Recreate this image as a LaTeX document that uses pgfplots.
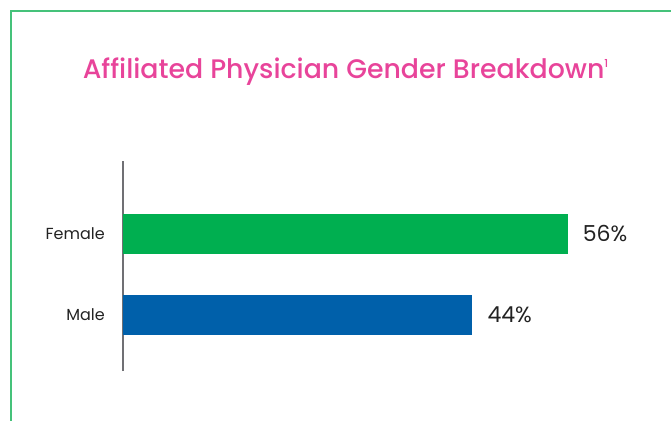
\documentclass[border=0pt]{standalone}
\usepackage{pgfplots}
\pgfplotsset{compat=1.18}
\usepackage{fontspec}
\setmainfont{Poppins}
\newfontfamily\titlefont{Poppins Medium}
\definecolor{framegreen}{HTML}{45C27A}
\definecolor{femalegreen}{HTML}{00AF50}
\definecolor{maleblue}{HTML}{0060AA}
\definecolor{titlepink}{HTML}{E8449A}
\definecolor{axisgray}{HTML}{707074}
\definecolor{textdark}{HTML}{222222}

\begin{document}
\begin{tikzpicture}[x=1pt,y=1pt]
\path[use as bounding box] (0,0) rectangle (671,-420);
% frame
\draw[framegreen, line width=2pt] (11,-421) -- (11,-11) -- (672,-11);
% title
\node[anchor=base, inner sep=0pt, text=titlepink, font=\titlefont\fontsize{26.8}{30}\selectfont]
  at (345.5,-78) {Affiliated Physician Gender Breakdown\raisebox{10.5pt}{\fontsize{11}{12}\selectfont 1}};

\begin{axis}[
  at={(122.5pt,-371pt)}, anchor=south west,
  scale only axis, width=477pt, height=210pt,
  xbar, bar width=40pt,
  xmin=0, xmax=60, ymin=-0.691, ymax=1.901,
  axis x line=none, axis y line=left,
  axis line style={-, draw=axisgray, line width=2pt},
  ytick={0,1}, yticklabels={Male,Female},
  major tick length=0pt,
  yticklabel style={anchor=east, inner sep=0pt, xshift=-17.5pt,
    font=\fontsize{16}{18}\selectfont, text=textdark},
  point meta=x,
  nodes near coords={\pgfmathprintnumber[assume math mode=true]{\pgfplotspointmeta}\%},
  every node near coord/.append style={anchor=west, inner sep=0pt, xshift=15pt,
    font=\fontsize{22}{26}\selectfont, text=textdark},
  clip=false,
]
\addplot[fill=femalegreen, draw=none, bar shift=0pt] coordinates {(56,1)};
\addplot[fill=maleblue, draw=none, bar shift=0pt] coordinates {(44,0)};
\end{axis}
\end{tikzpicture}
\end{document}
